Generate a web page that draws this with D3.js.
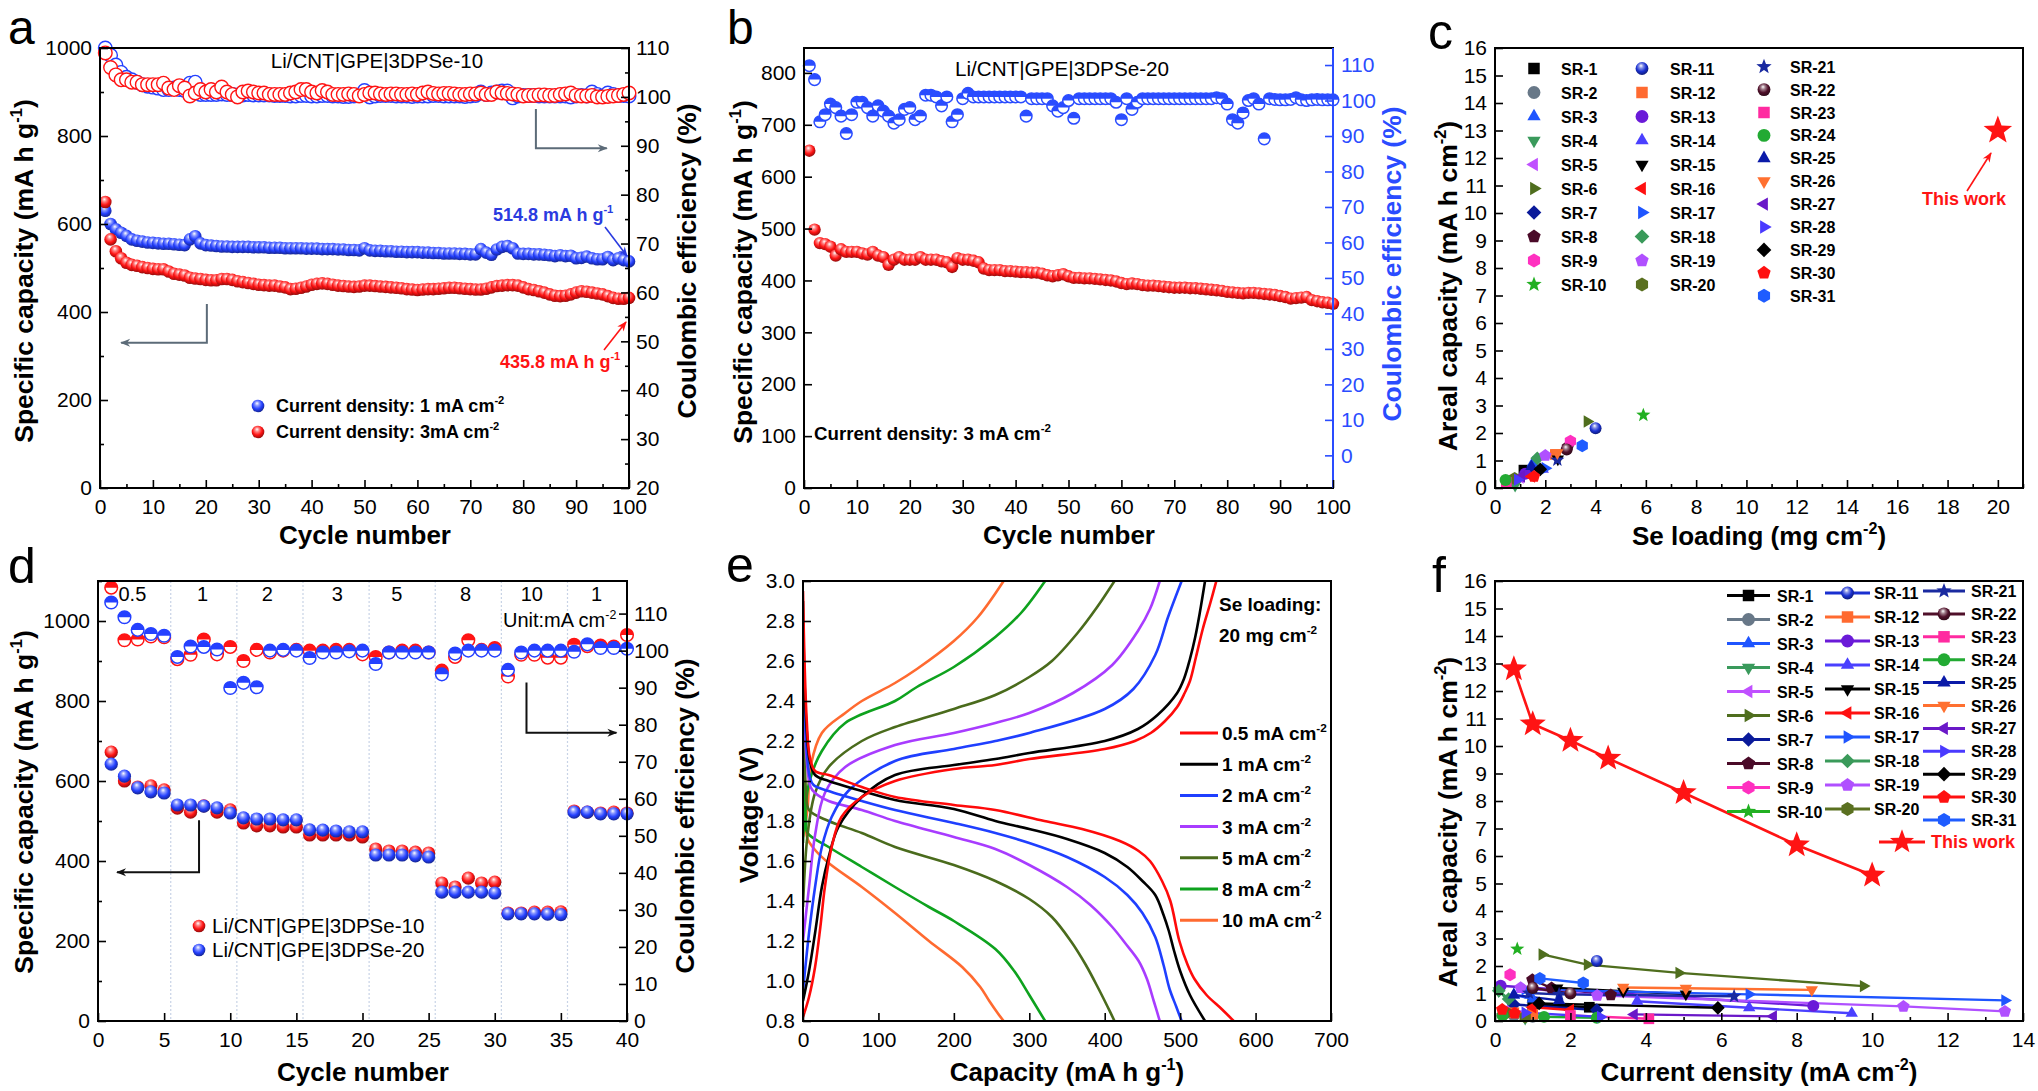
<!DOCTYPE html>
<html><head><meta charset="utf-8">
<script src="https://cdn.jsdelivr.net/npm/d3@7"></script>
<style>body{margin:0;background:#fff}svg{display:block}</style>
</head><body>
<script>
// ---------------- DATA ----------------
// panel a (cycles 1..100)
const a_cap_1mA = [630,600,588,580,573,565,562,560,558,557, 556,555,555,554,553,552,565,572,556,552, 551,550,549,549,548,548,548,548,547,547, 547,546,546,546,545,545,545,545,544,544, 544,543,543,543,542,542,541,541,540,545, 540,539,539,538,538,537,537,536,536,536, 535,535,534,534,533,533,533,532,532,531, 531,543,535,530,542,548,550,545,533,532, 532,531,531,530,529,527,529,527,528,522, 523,526,522,520,520,525,518,522,518,515];
const a_cap_3mA = [650,565,538,522,512,507,505,502,500,498, 497,497,492,487,485,483,478,476,475,473, 472,472,475,475,473,470,468,466,464,462, 461,460,460,458,456,452,453,455,458,462, 464,465,464,462,460,459,458,457,458,460, 460,459,458,457,456,455,454,452,451,450, 451,452,452,453,454,455,455,454,453,452, 451,451,453,456,459,460,461,461,460,456, 452,450,447,444,440,437,436,437,440,444, 447,446,444,442,440,436,432,430,430,432];
const a_ce_1mA = [110,108.5,106.5,105,104,103.5,103,102.5,102.2,102, 101.8,101.5,101.5,101.8,101.5,101.3,102.8,103,100.5,100.5, 100.5,100.5,100.6,100.5,100.5,100.4,100.4,100.5,100.4,100.4, 100.4,100.4,100.3,100.3,100.3,100.2,100.2,100.3,100.3,100.2, 100.2,100.3,100.3,100.2,100.2,100.1,100.1,100.2,100.3,101.3, 100,100.2,100.3,100.3,100.3,100.2,100.2,100.2,100.1,100.2, 100.2,100.2,100.3,100.3,100.2,100.2,100.2,100.2,100.1,100.2, 100.3,101,100.5,100.8,101,101.2,101.2,99.8,100.2,100.3, 100.3,100.3,100.2,100.2,100.2,100.2,100.2,100.2,100,100.2, 100.3,100.2,101,100.5,100.2,100.8,100.5,100.3,100.3,100.2];
const a_ce_3mA = [109,106,104.5,103.5,103.5,103,103,102.5,102.5,102.5, 102.5,102.8,101.8,101.5,102.3,101.8,100.2,100.8,101.5,101, 101.5,101,102,101,100.5,100,101,101.2,101,100.8, 100.8,100.5,100.5,100.5,100.5,100.8,101,101.5,101.5,101, 100.8,101.3,101,100.5,100.5,100.5,100.6,100.5,100.2,100.5, 100.8,100.8,100.6,100.5,100.6,100.6,100.5,100.5,100.6,100.5, 100.8,101,100.7,100.6,100.7,100.7,100.6,100.5,100.5,100.6, 100.6,100.8,100.5,100.5,101,100.8,100.7,100.6,100.5,100.2, 100.3,100.3,100.4,100.4,100.3,100.3,100.5,100.6,100.8,100.3, 100.2,100.2,100.3,100,100,100.1,100.2,100.3,100.5,100.8];

// panel b (cycles 1..100)
const b_cap = [650,498,472,470,465,448,460,455,455,455, 452,450,455,448,445,430,440,445,440,440, 440,445,440,440,440,437,435,426,443,440, 440,438,435,423,420,420,420,418,418,417, 416,416,415,415,413,410,408,410,412,408, 405,405,404,404,403,402,401,400,398,395, 393,394,393,391,390,390,389,388,387,386, 386,386,385,385,384,383,382,381,380,378, 377,376,375,376,376,375,374,373,372,370, 368,365,366,367,368,362,360,358,357,355];
const b_ce = [109.8,105.9,94,96,99,98,95.6,90.7,96,99.5, 99.5,98,95.6,98.5,97,95.6,93.6,94.6,97.5,98, 94.6,95.6,101.5,101.5,101,98.5,101,94,96,100.5, 102,101,101,101,101,101,101,101,101,101, 101,95.6,100.5,100.5,100.5,100.5,98.5,97,98,100, 95,100.5,100.5,100.5,100.5,100.5,100.5,100.5,99.5,94.6, 100.5,97.5,99.5,100.5,100.5,100.5,100.5,100.5,100.5,100.5, 100.5,100.5,100.5,100.5,100.5,100.5,100.5,100.8,100.5,99, 94.6,93.6,96.5,100,100.5,99,89.2,100.5,100.3,100.2, 100.2,100.3,100.8,100.2,100,100.2,100.3,100.2,100.2,100.2];

// panel c / f (reference series)
const sr_names = ["SR-1","SR-2","SR-3","SR-4","SR-5","SR-6","SR-7","SR-8","SR-9","SR-10","SR-11","SR-12","SR-13","SR-14","SR-15","SR-16","SR-17","SR-18","SR-19","SR-20","SR-21","SR-22","SR-23","SR-24","SR-25","SR-26","SR-27","SR-28","SR-29","SR-30","SR-31"];
const c_loading = [1.15,0.5,1.5,0.8,1.0,3.67,1.35,2.9,3.0,5.9, 4.0,2.4,1.2,1.9,2.5,1.45,2.0,1.68,2.0,0.78, 2.48,2.85,0.45,0.42,1.45,2.48,1.05,0.9,1.8,1.55,3.47];
const c_areal = [0.65,0.22,0.9,0.1,0.38,2.42,0.58,1.5,1.7,2.65, 2.17,1.22,0.52,0.68,1.05,0.42,0.72,1.08,1.18,0.35, 1.02,1.4,0.2,0.29,0.78,1.28,0.42,0.3,0.68,0.42,1.54];
const c_this_work = [20, 13];
const f_current = [[1.0,2.5],[0.5,1.0],[0.5,1.0],[0.1,0.8],[0.3,1.0],[1.25,2.45,4.88,9.77],[0.5,2.7],[0.99,1.5,3.07],[0.4],[0.59],
 [2.7],[0.5,1.0],[0.15,8.44],[3.77,6.74,9.46],[1.65,3.4,5.06],[1.0,2.0],[0.8,6.74,13.52],[0.1,0.36],[0.68,2.71,10.83,13.52],[0.3,0.8],
 [0.9,1.7,6.34],[1.0,2.0],[2.0,4.08],[0.2,1.3,2.7],[0.5,1.7],[3.4,5.06,8.4],[3.69,7.38],[0.8,2.8],[1.17,5.91],[0.19,0.52],[1.19,2.34]];
const f_areal = [[0.6,0.5],[0.2,0.15],[0.95,0.8],[1.1,0.1],[0.4,0.3],[2.42,2.05,1.75,1.27],[0.6,0.4],[1.5,1.2,0.95],[1.68],[2.62],
 [2.18],[0.3,0.25],[1.28,0.55],[0.72,0.48,0.28],[1.2,1.08,0.98],[0.5,0.4],[1.15,0.97,0.75],[1.1,0.8],[1.21,0.93,0.53,0.35],[0.3,0.15],
 [1.02,0.97,0.9],[1.2,1.0],[0.2,0.08],[0.2,0.15,0.12],[0.95,0.75],[1.22,1.19,1.13],[0.24,0.17],[0.3,0.15],[0.64,0.48],[0.42,0.28],[1.55,1.38]];
const f_this_current = [0.5,1,2,3,5,8,10];
const f_this_areal = [12.8,10.8,10.2,9.55,8.3,6.4,5.3];

// panel d (cycles 1..40)
const d_cap_10 = [672,600,585,588,578,532,522,538,522,528, 495,488,488,485,485,465,465,465,465,460, 430,425,425,422,420,345,335,357,345,347, 270,270,272,272,273,525,522,520,522,520];
const d_cap_20 = [642,612,583,573,570,540,540,537,533,520, 508,505,505,503,503,478,477,475,473,473, 415,415,415,413,410,322,322,322,322,320, 268,268,268,267,266,522,522,518,518,518];
const d_ce_10 = [117,102.8,103,103.8,103.6,97.7,98.9,103,99,101, 97.2,100.2,99.5,100,100.2,100,100,100.2,100.2,99, 98.3,99.5,100,100,99.5,94.6,98.3,102.8,100.2,100.7, 93,98.9,98.9,98.1,98.1,101.6,101.2,101.4,101.1,104.2];
const d_ce_20 = [113,109,105.6,104.5,104,98.3,101.1,101,100.3,89.9, 91.3,90.1,100,100.2,100,98,99.5,99.5,99.8,100, 96.4,99.5,99.5,99.5,99.5,93.6,99.2,100,100,100, 94.8,99.5,100,100,100,99.7,101.7,100.7,100.7,100.5];
const d_rate_labels = ["0.5","1","2","3","5","8","10","1"];
const d_rate_label_cycle = [2.6,7.9,12.8,18.1,22.6,27.8,32.8,37.7];
const d_separators = [5.5,10.5,15.5,20.5,25.5,30.5,35.5];

// panel e ([capacity, voltage])
const e_rates = ["0.5 mA cm","1 mA cm","2 mA cm","3 mA cm","5 mA cm","8 mA cm","10 mA cm"];
const e_dis_05 = [[0,2.95],[2,2.6],[5,2.3],[9,2.12],[16,2.05],[34,2.03],[78,1.97],[122,1.92],[200,1.88],[255,1.855],[320,1.8],[370,1.76],[420,1.7],[445,1.65],[460,1.6],[476,1.5],[487,1.4],[499,1.2],[510,1.08],[519,1.01],[535,0.93],[555,0.86],[571,0.8]];
const e_chg_05 = [[0,0.82],[8,0.92],[16,1.07],[23,1.27],[29,1.47],[38,1.67],[51,1.82],[78,1.92],[122,2.0],[200,2.06],[255,2.08],[300,2.11],[400,2.16],[440,2.2],[461,2.24],[480,2.3],[496,2.37],[506,2.44],[513,2.5],[521,2.62],[530,2.76],[540,2.89],[548,3.0]];
const e_dis_1 = [[0,2.9],[2,2.5],[5,2.25],[9,2.1],[16,2.03],[34,2.0],[78,1.95],[122,1.905],[200,1.86],[255,1.8],[300,1.76],[350,1.71],[400,1.64],[430,1.57],[450,1.5],[467,1.43],[478,1.33],[485,1.25],[492,1.15],[500,1.05],[513,0.93],[533,0.8]];
const e_chg_1 = [[0,0.9],[8,1.05],[16,1.24],[25,1.47],[34,1.62],[47,1.77],[78,1.92],[122,2.03],[200,2.08],[255,2.11],[300,2.14],[400,2.2],[444,2.26],[470,2.33],[496,2.44],[505,2.51],[513,2.61],[520,2.72],[526,2.84],[533,3.0]];
const e_dis_2 = [[0,2.8],[2,2.4],[5,2.15],[9,2.02],[14,1.98],[34,1.95],[78,1.9],[122,1.855],[200,1.79],[255,1.74],[300,1.69],[350,1.62],[400,1.52],[430,1.43],[450,1.34],[467,1.22],[478,1.08],[486,0.96],[495,0.87],[502,0.8]];
const e_chg_2 = [[0,0.95],[8,1.24],[16,1.47],[25,1.67],[38,1.82],[60,1.95],[122,2.1],[200,2.16],[255,2.2],[300,2.24],[400,2.36],[438,2.46],[467,2.63],[484,2.82],[502,3.0]];
const e_dis_3 = [[0,2.75],[2,2.35],[5,2.1],[10,1.97],[16,1.94],[34,1.9],[78,1.855],[122,1.8],[200,1.72],[255,1.66],[300,1.58],[350,1.47],[381,1.38],[410,1.27],[427,1.19],[445,1.1],[456,1.01],[465,0.9],[473,0.8]];
const e_chg_3 = [[0,1.2],[8,1.47],[16,1.73],[29,1.94],[56,2.07],[122,2.18],[200,2.24],[255,2.29],[300,2.34],[358,2.44],[410,2.58],[444,2.75],[460,2.86],[473,3.0]];
const e_dis_5 = [[0,2.6],[2,2.2],[4,1.95],[8,1.855],[34,1.8],[78,1.74],[122,1.67],[200,1.58],[255,1.5],[300,1.41],[330,1.32],[355,1.2],[375,1.08],[392,0.96],[404,0.87],[413,0.8]];
const e_chg_5 = [[0,1.37],[6,1.73],[16,1.94],[34,2.07],[78,2.2],[122,2.27],[200,2.36],[255,2.43],[300,2.52],[330,2.6],[364,2.74],[390,2.87],[413,3.0]];
const e_dis_8 = [[0,2.4],[2,2.0],[4,1.8],[6,1.74],[34,1.67],[78,1.57],[122,1.47],[167,1.37],[200,1.3],[255,1.16],[280,1.05],[300,0.93],[321,0.8]];
const e_chg_8 = [[0,1.69],[8,1.99],[25,2.15],[56,2.29],[122,2.4],[151,2.47],[200,2.57],[255,2.72],[289,2.84],[321,3.0]];
const e_dis_10 = [[0,2.3],[2,1.95],[4,1.76],[6,1.71],[16,1.655],[34,1.59],[78,1.47],[122,1.34],[167,1.2],[211,1.07],[235,0.97],[247,0.9],[258,0.84],[266,0.8]];
const e_chg_10 = [[0,1.72],[6,1.86],[10,2.07],[25,2.24],[56,2.34],[78,2.4],[122,2.49],[151,2.56],[200,2.7],[232,2.82],[266,3.0]];

// ---------------- STYLE / HELPERS ----------------
const FONT = "'Liberation Sans', Arial, sans-serif";
const RED = "#ff1414", BLUE = "#2440ff", BBLUE = "#2a4cff";
const svg = d3.select("body").append("svg").attr("width",2038).attr("height",1091);
svg.append("rect").attr("width",2038).attr("height",1091).attr("fill","#fff");
const defs = svg.append("defs");
const gradCache = {};
function sphereFill(color){
  if (gradCache[color]) return gradCache[color];
  const id = "sg" + Object.keys(gradCache).length;
  const g = defs.append("radialGradient").attr("id",id).attr("cx","0.45").attr("cy","0.4").attr("r","0.62").attr("fx","0.42").attr("fy","0.28");
  const c = d3.rgb(color);
  g.append("stop").attr("offset","0").attr("stop-color","#ffffff");
  g.append("stop").attr("offset","0.28").attr("stop-color",d3.interpolateRgb(color,"#ffffff")(0.45));
  g.append("stop").attr("offset","0.62").attr("stop-color",color);
  g.append("stop").attr("offset","1").attr("stop-color",d3.rgb(c.r*0.55,c.g*0.55,c.b*0.55).formatHex());
  gradCache[color] = `url(#${id})`;
  return gradCache[color];
}
const arrowIds = {};
function arrowHead(color){
  if (arrowIds[color]) return arrowIds[color];
  const id = "ah" + Object.keys(arrowIds).length;
  defs.append("marker").attr("id",id).attr("viewBox","0 0 10 10").attr("refX",9).attr("refY",5)
    .attr("orient","auto").attr("markerUnits","userSpaceOnUse")
    .attr("markerWidth",14).attr("markerHeight",10)
    .append("path").attr("d","M0,1 L10,5 L0,9 L3,5 Z").attr("fill",color);
  arrowIds[color] = `url(#${id})`;
  return arrowIds[color];
}
function polyline(g, pts, color, w){
  return g.append("path").attr("d", d3.line()(pts)).attr("fill","none").attr("stroke",color)
    .attr("stroke-width", w||2).attr("marker-end", arrowHead(color));
}
function polyPts(n, r, rot){
  const p=[]; for(let i=0;i<n;i++){const a=(rot+i*360/n-90)*Math.PI/180; p.push([r*Math.cos(a), r*Math.sin(a)]);} return p;
}
function starPts(R){
  const p=[]; for(let i=0;i<10;i++){const r=i%2?R*0.42:R; const a=(i*36-90)*Math.PI/180; p.push([r*Math.cos(a), r*Math.sin(a)]);} return p;
}
function drawMarker(g, type, color, x, y, r){
  const gg = g.append("g").attr("transform",`translate(${x},${y})`);
  const P = pts => gg.append("polygon").attr("points", pts.map(q=>q[0].toFixed(2)+","+q[1].toFixed(2)).join(" ")).attr("fill",color);
  switch(type){
    case "square": gg.append("rect").attr("x",-r*0.82).attr("y",-r*0.82).attr("width",r*1.64).attr("height",r*1.64).attr("fill",color); break;
    case "circle": gg.append("circle").attr("r",r*0.92).attr("fill",color); break;
    case "sphere": gg.append("circle").attr("r",r*0.92).attr("fill",sphereFill(color)); break;
    case "triUp": P(polyPts(3,r*1.1,0)); break;
    case "triDown": P(polyPts(3,r*1.1,180)); break;
    case "triLeft": P(polyPts(3,r*1.1,-90)); break;
    case "triRight": P(polyPts(3,r*1.1,90)); break;
    case "diamond": P(polyPts(4,r*1.05,0)); break;
    case "pent": P(polyPts(5,r,0)); break;
    case "hex": P(polyPts(6,r,0)); break;
    case "star": P(starPts(r*1.15)); break;
  }
  return gg;
}
function halfMarker(g, x, y, r, color){
  const gg = g.append("g").attr("transform",`translate(${x},${y})`);
  gg.append("circle").attr("r",r).attr("fill","#fff").attr("stroke",color).attr("stroke-width",1.5);
  gg.append("path").attr("d",`M${-r},0 A${r},${r} 0 0 1 ${r},0 Z`).attr("fill",color);
}
function rich(g, x, y, parts, o){
  const t = g.append("text").attr("x",x).attr("y",y).attr("font-family",FONT).attr("font-size",o.size)
    .attr("font-weight",o.bold?"bold":"normal").attr("fill",o.color||"#000").attr("text-anchor",o.anchor||"start");
  if (o.rotate) t.attr("transform",`rotate(${o.rotate},${x},${y})`);
  let up = false;
  parts.forEach(p=>{
    const isSup = typeof p === "object";
    const ts = t.append("tspan").text(isSup ? p.sup : p);
    if (isSup){ ts.attr("font-size", o.size*0.62); if(!up){ ts.attr("dy", -o.size*0.42); up=true; } }
    else if (up){ ts.attr("dy", o.size*0.42); up=false; }
  });
  return t;
}
function axis(g, gen, tr, vals, size, fmt, color, pad){
  const ax = gen.tickValues(vals).tickSizeInner(size).tickSizeOuter(0).tickPadding(pad==null?8:pad);
  if (fmt === null) ax.tickFormat(""); else if (fmt) ax.tickFormat(fmt);
  const a = g.append("g").attr("transform",tr).call(ax);
  a.select(".domain").remove();
  a.selectAll("line").attr("stroke",color||"#000").attr("stroke-width",1.6);
  a.selectAll("text").attr("fill",color||"#000").attr("font-size",21).attr("font-family",FONT);
  return a;
}
function frame(g, x0, x1, y0, y1, rightColor){
  g.append("rect").attr("x",x0).attr("y",y0).attr("width",x1-x0).attr("height",y1-y0).attr("fill","none").attr("stroke","#000").attr("stroke-width",2);
  if (rightColor) g.append("line").attr("x1",x1).attr("x2",x1).attr("y1",y0).attr("y2",y1).attr("stroke",rightColor).attr("stroke-width",2);
}
function letter(t, x, y, s){ svg.append("text").attr("x",x).attr("y",y).attr("font-family",FONT).attr("font-size",s||50).text(t); }
const range = (a,b,s) => { const r=[]; for(let v=a; v<=b+1e-9; v+=s) r.push(+v.toFixed(4)); return r; };
const sup = s => ({sup:s});

// ---------------- PANEL A ----------------
{
  const g = svg.append("g");
  const X0=100,X1=629,Y0=48,Y1=488;
  const x = d3.scaleLinear().domain([0,100]).range([X0,X1]);
  const yL = d3.scaleLinear().domain([0,1000]).range([Y1,Y0]);
  const yR = d3.scaleLinear().domain([20,110]).range([Y1,Y0]);
  a_ce_1mA.forEach((v,i)=> g.append("circle").attr("cx",x(i+1)).attr("cy",yR(v)).attr("r",6.8).attr("fill","#fff").attr("stroke",BLUE).attr("stroke-width",1.4));
  a_ce_3mA.forEach((v,i)=> g.append("circle").attr("cx",x(i+1)).attr("cy",yR(v)).attr("r",6.8).attr("fill","#fff").attr("stroke",RED).attr("stroke-width",1.4));
  a_cap_1mA.forEach((v,i)=> g.append("circle").attr("cx",x(i+1)).attr("cy",yL(v)).attr("r",6.3).attr("fill",sphereFill(BLUE)));
  a_cap_3mA.forEach((v,i)=> g.append("circle").attr("cx",x(i+1)).attr("cy",yL(v)).attr("r",6.3).attr("fill",sphereFill(RED)));
  frame(g,X0,X1,Y0,Y1);
  axis(g, d3.axisBottom(x), `translate(0,${Y1})`, range(0,100,10), -8, d3.format("d"), "#000", 11);
  axis(g, d3.axisBottom(x), `translate(0,${Y1})`, range(5,95,10), -4, null);
  axis(g, d3.axisLeft(yL), `translate(${X0},0)`, range(0,1000,200), -8, d3.format("d"), "#000", 8);
  axis(g, d3.axisLeft(yL), `translate(${X0},0)`, range(100,900,200), -4, null);
  axis(g, d3.axisRight(yR), `translate(${X1},0)`, range(20,110,10), -8, d3.format("d"), "#000", 7);
  axis(g, d3.axisRight(yR), `translate(${X1},0)`, range(25,105,10), -4, null);
  g.append("text").attr("x",377).attr("y",68).attr("text-anchor","middle").attr("font-family",FONT).attr("font-size",20.5).text("Li/CNT|GPE|3DPSe-10");
  polyline(g, [[x(82.4),yR(97.5)],[x(82.4),yR(89.5)],[x(95.8),yR(89.5)]], "#5c6b78", 2);
  polyline(g, [[x(20.2),yL(418)],[x(20.2),yL(330)],[x(4),yL(330)]], "#5c6b78", 2);
  rich(g, 493, 221, ["514.8 mA h g", sup("-1")], {size:18, bold:true, color:"#2a3be0"});
  polyline(g, [[605,227],[627,256]], "#2a3be0", 1.6);
  rich(g, 500, 368, ["435.8 mA h g", sup("-1")], {size:18, bold:true, color:RED});
  polyline(g, [[604,350],[626,322]], RED, 1.6);
  g.append("circle").attr("cx",258).attr("cy",406).attr("r",6.3).attr("fill",sphereFill(BLUE));
  g.append("circle").attr("cx",258).attr("cy",432).attr("r",6.3).attr("fill",sphereFill(RED));
  rich(g, 276, 412, ["Current density: 1 mA cm", sup("-2")], {size:18, bold:true});
  rich(g, 276, 438, ["Current density: 3mA cm", sup("-2")], {size:18, bold:true});
  rich(g, 365, 544, ["Cycle number"], {size:26, bold:true, anchor:"middle"});
  rich(g, 33, 271, ["Specific capacity (mA h g", sup("-1"), ")"], {size:26.5, bold:true, anchor:"middle", rotate:-90});
  rich(g, 696, 261, ["Coulombic efficiency (%)"], {size:26.5, bold:true, anchor:"middle", rotate:-90});
  letter("a", 8, 44, 48);
}

// ---------------- PANEL B ----------------
{
  const g = svg.append("g");
  const X0=804,X1=1333,Y0=48,Y1=488;
  const x = d3.scaleLinear().domain([0,100]).range([X0,X1]);
  const yL = d3.scaleLinear().domain([0,848]).range([Y1,Y0]);
  const yR = d3.scaleLinear().domain([-9.2,114.8]).range([Y1,Y0]);
  b_ce.forEach((v,i)=> halfMarker(g, x(i+1), yR(v), 5.8, BBLUE));
  b_cap.forEach((v,i)=> g.append("circle").attr("cx",x(i+1)).attr("cy",yL(v)).attr("r",6.2).attr("fill",sphereFill(RED)));
  frame(g,X0,X1,Y0,Y1,BBLUE);
  axis(g, d3.axisBottom(x), `translate(0,${Y1})`, range(0,100,10), -8, d3.format("d"), "#000", 11);
  axis(g, d3.axisBottom(x), `translate(0,${Y1})`, range(5,95,10), -4, null);
  axis(g, d3.axisLeft(yL), `translate(${X0},0)`, range(0,800,100), -8, d3.format("d"), "#000", 8);
  axis(g, d3.axisRight(yR), `translate(${X1},0)`, range(0,110,10), -8, d3.format("d"), BBLUE, 8);
  g.append("text").attr("x",1062).attr("y",76).attr("text-anchor","middle").attr("font-family",FONT).attr("font-size",20.7).text("Li/CNT|GPE|3DPSe-20");
  rich(g, 814, 440, ["Current density: 3 mA cm", sup("-2")], {size:18.7, bold:true});
  rich(g, 1069, 544, ["Cycle number"], {size:26, bold:true, anchor:"middle"});
  rich(g, 752, 272, ["Specific capacity (mA h g", sup("-1"), ")"], {size:26.5, bold:true, anchor:"middle", rotate:-90});
  rich(g, 1401, 264, ["Coulombic efficiency (%)"], {size:26.5, bold:true, anchor:"middle", rotate:-90, color:BBLUE});
  letter("b", 727, 44, 48);
}

// ---------------- PANEL C ----------------
const sr_shapes = ["square","circle","triUp","triDown","triLeft","triRight","diamond","pent","hex","star","sphere","square","circle","triUp","triDown","triLeft","triRight","diamond","pent","hex","star","sphere","square","circle","triUp","triDown","triLeft","triRight","diamond","pent","hex"];
const sr_colors = ["#000000","#687888","#1f55ff","#3a9a5c","#c050ff","#4f6e1e","#0a1a9a","#4a0a28","#ff30c0","#22b022","#1a30d0","#ff6a30","#6a1ad8","#4a40ff","#000000","#ff1010","#1f55ff","#3a9a5a","#b050ff","#5a7020","#1a2aa0","#50102a","#ff2aa0","#22aa33","#0a1aa8","#ff7030","#6a18c8","#4a3aff","#000000","#ff1010","#1f5cff"];
{
  const g = svg.append("g");
  const X0=1495,X1=2023,Y0=48,Y1=488;
  const x = d3.scaleLinear().domain([0,21]).range([X0,X1]);
  const y = d3.scaleLinear().domain([0,16]).range([Y1,Y0]);
  sr_names.forEach((n,i)=> drawMarker(g, sr_shapes[i], sr_colors[i], x(c_loading[i]), y(c_areal[i]), 6.5));
  drawMarker(g, "star", RED, x(c_this_work[0]), y(c_this_work[1]), 13);
  frame(g,X0,X1,Y0,Y1);
  axis(g, d3.axisBottom(x), `translate(0,${Y1})`, range(0,20,2), -8, d3.format("d"), "#000", 11);
  axis(g, d3.axisBottom(x), `translate(0,${Y1})`, range(1,21,2), -4, null);
  axis(g, d3.axisLeft(y), `translate(${X0},0)`, range(0,16,1), -8, d3.format("d"), "#000", 8);
  sr_names.forEach((n,i)=>{
    const col = Math.min(2, Math.floor(i/10));
    const idx = col===2 ? i-20 : i%10;
    const mx = [1534,1642,1764][col], tx = [1561,1670,1790][col];
    const cy = col===2 ? 66.7 + idx*22.9 : 68.5 + idx*24;
    drawMarker(g, sr_shapes[i], sr_colors[i], mx, cy, 7);
    g.append("text").attr("x",tx).attr("y",cy+6).attr("font-family",FONT).attr("font-weight","bold").attr("font-size",16).text(n);
  });
  g.append("text").attr("x",1964).attr("y",205).attr("text-anchor","middle").attr("font-family",FONT).attr("font-weight","bold").attr("font-size",18).attr("fill",RED).text("This work");
  polyline(g, [[1967,191],[1991,153]], RED, 1.6);
  rich(g, 1759, 545, ["Se loading (mg cm", sup("-2"), ")"], {size:26, bold:true, anchor:"middle"});
  rich(g, 1457, 286, ["Areal capacity (mA h cm", sup("-2"), ")"], {size:26.5, bold:true, anchor:"middle", rotate:-90});
  letter("c", 1428, 49);
}

// ---------------- PANEL D ----------------
{
  const g = svg.append("g");
  const X0=98,X1=627,Y0=581,Y1=1021;
  const x = d3.scaleLinear().domain([0,40]).range([X0,X1]);
  const yL = d3.scaleLinear().domain([0,1100]).range([Y1,Y0]);
  const yR = d3.scaleLinear().domain([0,118.8]).range([Y1,Y0]);
  d_separators.forEach(s=> g.append("line").attr("x1",x(s)).attr("x2",x(s)).attr("y1",Y0).attr("y2",Y1).attr("stroke","#c8d3e6").attr("stroke-width",1.2).attr("stroke-dasharray","2,2"));
  d_ce_10.forEach((v,i)=> halfMarker(g, x(i+1), yR(v), 6.3, RED));
  d_ce_20.forEach((v,i)=> halfMarker(g, x(i+1), yR(v), 6.3, BLUE));
  d_cap_10.forEach((v,i)=> g.append("circle").attr("cx",x(i+1)).attr("cy",yL(v)).attr("r",6.6).attr("fill",sphereFill(RED)));
  d_cap_20.forEach((v,i)=> g.append("circle").attr("cx",x(i+1)).attr("cy",yL(v)).attr("r",6.6).attr("fill",sphereFill(BLUE)));
  frame(g,X0,X1,Y0,Y1);
  axis(g, d3.axisBottom(x), `translate(0,${Y1})`, range(0,40,5), -8, d3.format("d"), "#000", 11);
  axis(g, d3.axisLeft(yL), `translate(${X0},0)`, range(0,1000,200), -8, d3.format("d"), "#000", 8);
  axis(g, d3.axisLeft(yL), `translate(${X0},0)`, range(100,1100,200), -4, null);
  axis(g, d3.axisRight(yR), `translate(${X1},0)`, range(0,110,10), -8, d3.format("d"), "#000", 7);
  d_rate_labels.forEach((t,i)=> g.append("text").attr("x",x(d_rate_label_cycle[i])).attr("y",601).attr("text-anchor","middle").attr("font-family",FONT).attr("font-size",20).text(t));
  rich(g, 503, 627, ["Unit:mA cm", sup("-2")], {size:20});
  polyline(g, [[x(32.4),yR(91.4)],[x(32.4),yR(77.8)],[x(39.2),yR(77.8)]], "#111", 2);
  polyline(g, [[x(7.64),yL(502)],[x(7.64),yL(372)],[x(1.44),yL(372)]], "#111", 2);
  g.append("circle").attr("cx",199).attr("cy",926).attr("r",6.3).attr("fill",sphereFill(RED));
  g.append("circle").attr("cx",199).attr("cy",950).attr("r",6.3).attr("fill",sphereFill(BLUE));
  g.append("text").attr("x",212).attr("y",933).attr("font-family",FONT).attr("font-size",20.5).text("Li/CNT|GPE|3DPSe-10");
  g.append("text").attr("x",212).attr("y",957).attr("font-family",FONT).attr("font-size",20.5).text("Li/CNT|GPE|3DPSe-20");
  rich(g, 363, 1081, ["Cycle number"], {size:26, bold:true, anchor:"middle"});
  rich(g, 33, 802, ["Specific capacity (mA h g", sup("-1"), ")"], {size:26.5, bold:true, anchor:"middle", rotate:-90});
  rich(g, 694, 816, ["Coulombic efficiency (%)"], {size:26.5, bold:true, anchor:"middle", rotate:-90});
  letter("d", 8, 583);
}

// ---------------- PANEL E ----------------
{
  const g = svg.append("g");
  const X0=803,X1=1331,Y0=581,Y1=1021;
  const x = d3.scaleLinear().domain([0,700]).range([X0,X1]);
  const y = d3.scaleLinear().domain([0.8,3.0]).range([Y1,Y0]);
  const colors = ["#ff0a0a","#000000","#1f3fff","#a83cff","#4a6b1c","#0ea21e","#ff6a30"];
  const curves = [[e_dis_05,e_chg_05],[e_dis_1,e_chg_1],[e_dis_2,e_chg_2],[e_dis_3,e_chg_3],[e_dis_5,e_chg_5],[e_dis_8,e_chg_8],[e_dis_10,e_chg_10]];
  const line = d3.line().x(d=>x(d[0])).y(d=>y(d[1])).curve(d3.curveCatmullRom.alpha(0.5));
  const clip = defs.append("clipPath").attr("id","clipE");
  clip.append("rect").attr("x",X0).attr("y",Y0).attr("width",X1-X0).attr("height",Y1-Y0);
  const cg = g.append("g").attr("clip-path","url(#clipE)");
  for (let i=curves.length-1;i>=0;i--){
    curves[i].forEach(c=> cg.append("path").attr("d",line(c)).attr("fill","none").attr("stroke",colors[i]).attr("stroke-width",2.6));
  }
  frame(g,X0,X1,Y0,Y1);
  axis(g, d3.axisBottom(x), `translate(0,${Y1})`, range(0,700,100), -8, d3.format("d"), "#000", 11);
  axis(g, d3.axisLeft(y), `translate(${X0},0)`, range(0.8,3.0,0.2), -8, d3.format(".1f"), "#000", 8);
  e_rates.forEach((r,i)=>{
    const cy = 733 + i*31.2;
    g.append("line").attr("x1",1180).attr("x2",1218).attr("y1",cy).attr("y2",cy).attr("stroke",colors[i]).attr("stroke-width",3);
    rich(g, 1222, cy+7, [r, sup("-2")], {size:19, bold:true});
  });
  rich(g, 1219, 611, ["Se loading:"], {size:19, bold:true});
  rich(g, 1219, 642, ["20 mg cm", sup("-2")], {size:19, bold:true});
  rich(g, 1067, 1081, ["Capacity (mA h g", sup("-1"), ")"], {size:26, bold:true, anchor:"middle"});
  rich(g, 758, 815, ["Voltage (V)"], {size:26.5, bold:true, anchor:"middle", rotate:-90});
  letter("e", 726, 582);
}

// ---------------- PANEL F ----------------
{
  const g = svg.append("g");
  const X0=1495,X1=2023,Y0=581,Y1=1021;
  const x = d3.scaleLinear().domain([0,14]).range([X0,X1]);
  const y = d3.scaleLinear().domain([0,16]).range([Y1,Y0]);
  const line = d3.line().x(d=>x(d[0])).y(d=>y(d[1]));
  sr_names.forEach((n,i)=>{
    const pts = f_current[i].map((c,j)=>[c, f_areal[i][j]]);
    if (pts.length>1) g.append("path").attr("d",line(pts)).attr("fill","none").attr("stroke",sr_colors[i]).attr("stroke-width",2.4);
  });
  sr_names.forEach((n,i)=>{
    f_current[i].forEach((c,j)=> drawMarker(g, sr_shapes[i], sr_colors[i], x(c), y(f_areal[i][j]), 6.5));
  });
  const tw = f_this_current.map((c,j)=>[c, f_this_areal[j]]);
  g.append("path").attr("d",line(tw)).attr("fill","none").attr("stroke",RED).attr("stroke-width",2.6);
  tw.forEach(p=> drawMarker(g, "star", RED, x(p[0]), y(p[1]), 12));
  frame(g,X0,X1,Y0,Y1);
  axis(g, d3.axisBottom(x), `translate(0,${Y1})`, range(0,14,2), -8, d3.format("d"), "#000", 11);
  axis(g, d3.axisBottom(x), `translate(0,${Y1})`, range(1,13,2), -4, null);
  axis(g, d3.axisLeft(y), `translate(${X0},0)`, range(0,16,1), -8, d3.format("d"), "#000", 8);
  sr_names.forEach((n,i)=>{
    const col = Math.min(2, Math.floor(i/10));
    const idx = col===2 ? i-20 : i%10;
    const l0 = [1727,1825,1923][col], l1 = [1770,1870,1965][col], tx = [1777,1874,1971][col];
    const cy = col===0 ? 595.5 + idx*24 : col===1 ? 593 + idx*24 : 591 + idx*22.9;
    g.append("line").attr("x1",l0).attr("x2",l1).attr("y1",cy).attr("y2",cy).attr("stroke",sr_colors[i]).attr("stroke-width",3);
    drawMarker(g, sr_shapes[i], sr_colors[i], (l0+l1)/2, cy, 7);
    g.append("text").attr("x",tx).attr("y",cy+6).attr("font-family",FONT).attr("font-weight","bold").attr("font-size",16).text(n);
  });
  g.append("line").attr("x1",1879).attr("x2",1925).attr("y1",842).attr("y2",842).attr("stroke",RED).attr("stroke-width",3);
  drawMarker(g, "star", RED, 1902, 842, 11);
  g.append("text").attr("x",1931).attr("y",848).attr("font-family",FONT).attr("font-weight","bold").attr("font-size",18).attr("fill",RED).text("This work");
  rich(g, 1759, 1081, ["Current density (mA cm", sup("-2"), ")"], {size:26, bold:true, anchor:"middle"});
  rich(g, 1457, 822, ["Areal capacity (mA h cm", sup("-2"), ")"], {size:26.5, bold:true, anchor:"middle", rotate:-90});
  letter("f", 1432, 592);
}
</script>
</body></html>
